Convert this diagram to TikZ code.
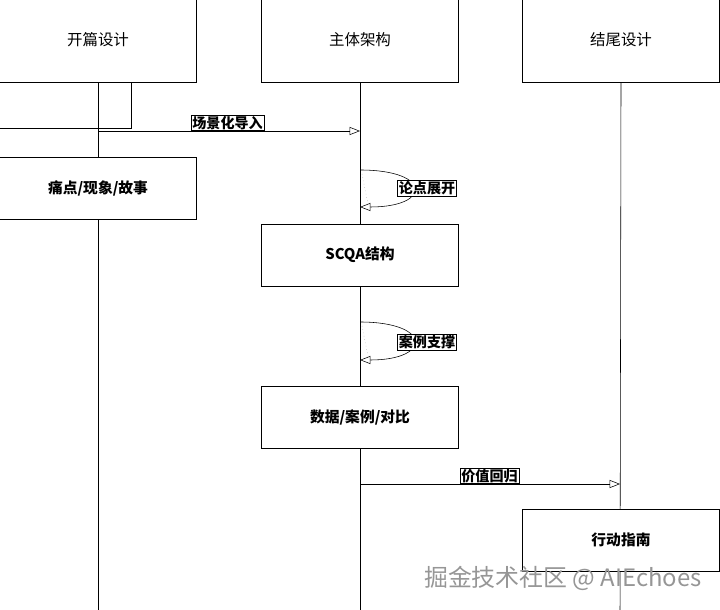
\documentclass[tikz,border=0pt]{standalone}
\usepackage{fontspec}
\setmainfont{Noto Sans CJK SC}
\usetikzlibrary{arrows.meta,calc}
\tikzset{
  actor/.style={draw, fill=white, minimum width=4.925cm, minimum height=2.1cm, font=\fontsize{11}{13}\selectfont},
  block/.style={draw, fill=white, minimum width=4.925cm, minimum height=1.55cm, font=\fontsize{10.5}{12}\selectfont\bfseries},
  msg/.style={-{Triangle[open, length=2.6mm, width=2mm]}, thin},
  lbl/.style={draw, fill=white, inner sep=0.8pt, font=\fontsize{10}{12}\selectfont\bfseries},
  life/.style={thin},
}
\definecolor{wmark}{RGB}{150,150,150}

\begin{document}
\begin{tikzpicture}[x=0.025cm, y=-0.025cm]
  \useasboundingbox (0,0) rectangle (720,609);
  \clip (0,0) rectangle (720,609);
  % lifelines
  \coordinate (e1) at (98,615);
  \coordinate (e2) at (360,615);
  \coordinate (e3) at (620,615);
  \node[actor] (h1) at (98,40) {开篇设计};
  \node[actor] (h2) at (360,40) {主体架构};
  \node[actor] (h3) at (621,40) {结尾设计};
  \draw[life] (h1.south) -- (e1);
  \draw[life] (h2.south) -- (e2);
  \draw[life] (h3.south) -- (e3);
  % activation
  \draw[thin] (-2,82) rectangle (131,128);
  % opening
  \coordinate (m1a) at (98,131);
  \coordinate (m1b) at (360,131);
  \draw[msg] (m1a) -- (m1b);
  \node[lbl, anchor=south west] (t1) at (191,131) {场景化导入};
  \node[block] (b1) at (98,188) {痛点/现象/故事};
  % self message 1
  \coordinate (s1a) at (360,170);
  \coordinate (s1b) at (360,207);
  \draw[msg] (s1a) .. controls (432,170) and (432,207) .. (s1b);
  \draw[thin, dotted, gray!60] (362,174) -- (368,204);
  \node[lbl] (t2) at (427,188) {论点展开};
  \node[block] (b2) at (360,255) {SCQA结构};
  % self message 2
  \coordinate (s2a) at (360,322);
  \coordinate (s2b) at (360,360);
  \draw[msg] (s2a) .. controls (432,322) and (432,360) .. (s2b);
  \draw[thin, dotted, gray!60] (362,326) -- (368,356);
  \node[lbl] (t3) at (427,342) {案例支撑};
  \node[block] (b3) at (360,417) {数据/案例/对比};
  % closing
  \coordinate (m2a) at (360,484);
  \coordinate (m2b) at (620,484);
  \draw[msg] (m2a) -- (m2b);
  \node[lbl, anchor=south west] (t4) at (460,484) {价值回归};
  \node[block] (b4) at (621,540) {行动指南};
  % watermark
  \node[wmark, font=\fontsize{17}{20}\selectfont] (wm) at (563,578) {掘金技术社区 @ AIEchoes};
\end{tikzpicture}
\end{document}
